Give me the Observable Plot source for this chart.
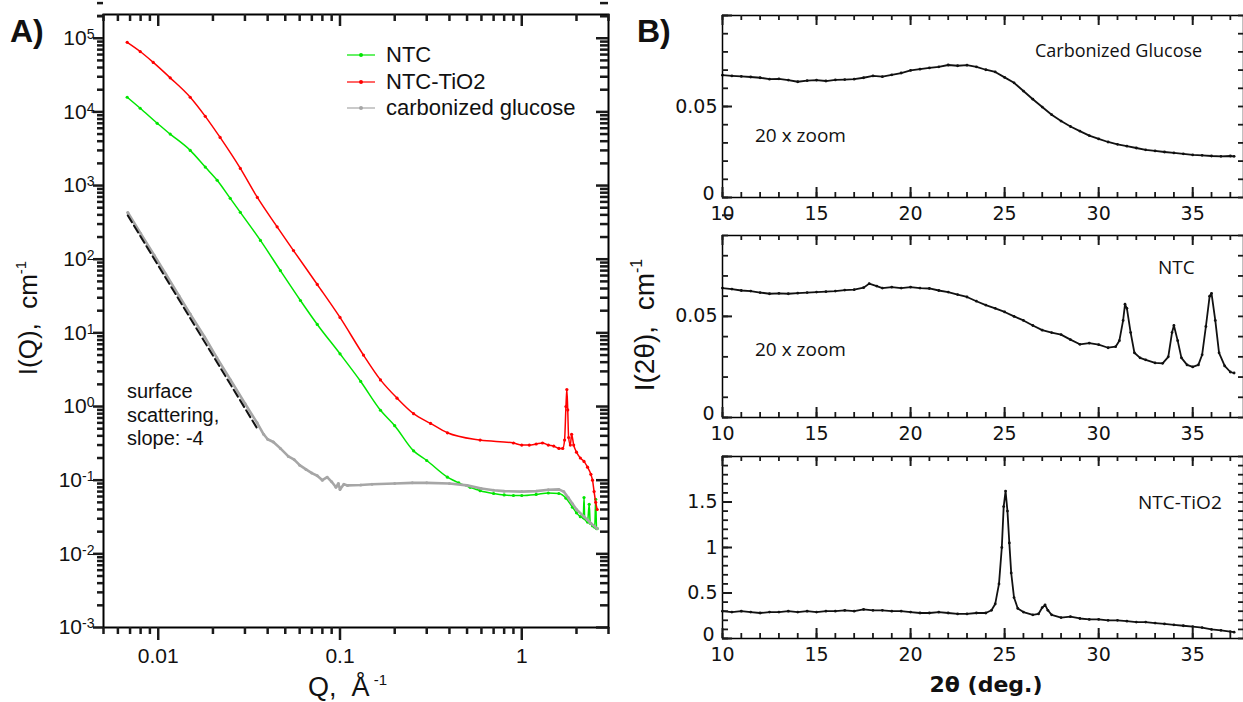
<!DOCTYPE html>
<html><head><meta charset="utf-8">
<script src="https://cdn.jsdelivr.net/npm/d3@7"></script>
<script src="https://cdn.jsdelivr.net/npm/@observablehq/plot@0.6"></script>
<style>
html,body{margin:0;padding:0;background:#fff;overflow:hidden}
#wrap{position:relative;width:1243px;height:702px;overflow:hidden;background:#fff}
#wrap svg{max-width:none !important}
</style></head><body><div id="wrap"></div>
<script>
// ---------- Panel A: SAXS, I(Q) vs Q (log-log) ----------
const ntcQ = [0.00675,0.00796,0.00987,0.01164,0.015,0.01815,0.0211,0.0249,0.0283,0.0365,0.047,0.0606,0.075,0.1,0.13,0.167,0.2,0.254,0.3,0.39,0.45,0.52,0.59,0.7,0.8,0.9,1.0,1.2,1.4,1.6,1.75,1.9,2.0,2.1,2.18,2.2,2.22,2.3,2.35,2.38,2.45,2.52,2.55,2.58,2.6];
const ntcI = [1.58e4,1.12e4,7.0e3,5.0e3,3.0e3,1.78e3,1.18e3,670,433,180,70,27.5,13.0,5.2,2.19,0.89,0.55,0.25,0.185,0.11,0.092,0.08,0.072,0.066,0.063,0.062,0.062,0.064,0.067,0.066,0.057,0.043,0.036,0.032,0.031,0.058,0.03,0.027,0.047,0.026,0.024,0.023,0.055,0.022,0.022];
const tioQ = [0.00675,0.00796,0.00939,0.01164,0.015,0.01815,0.0219,0.0283,0.0351,0.0451,0.0555,0.075,0.1,0.1346,0.167,0.206,0.254,0.315,0.39,0.59,0.9,1.0,1.1,1.2,1.3,1.4,1.5,1.6,1.68,1.72,1.75,1.77,1.79,1.81,1.85,1.88,1.93,2.0,2.1,2.2,2.3,2.4,2.45,2.5,2.55,2.6];
const tioI = [8.8e4,6.6e4,4.7e4,2.9e4,1.58e4,8.7e3,4.5e3,1.71e3,690,275,131,45.4,16.2,5.0,2.3,1.3,0.80,0.59,0.44,0.35,0.32,0.30,0.30,0.31,0.32,0.30,0.29,0.27,0.27,0.35,1.0,1.7,0.9,0.38,0.30,0.42,0.30,0.24,0.2,0.18,0.15,0.12,0.10,0.07,0.05,0.04];
const cgQ = [0.0068,0.008,0.0095,0.011,0.013,0.015,0.018,0.021,0.025,0.03,0.035,0.038,0.04,0.043,0.047,0.052,0.056,0.06,0.065,0.07,0.075,0.08,0.085,0.09,0.095,0.098,0.1,0.105,0.11,0.13,0.15,0.2,0.25,0.3,0.4,0.5,0.6,0.7,0.8,1.0,1.2,1.4,1.6,1.7,1.8,1.9,2.0,2.2,2.4,2.6];
const cgI = [430,224,113,63,32,18,8.8,4.6,2.3,1.1,0.6,0.42,0.36,0.33,0.27,0.21,0.19,0.16,0.14,0.125,0.115,0.1,0.11,0.095,0.08,0.09,0.075,0.088,0.085,0.086,0.088,0.09,0.092,0.092,0.09,0.085,0.077,0.073,0.071,0.07,0.071,0.074,0.075,0.07,0.058,0.048,0.04,0.032,0.026,0.022];
const fitQ = [0.0068, 0.0351];
const fitI = [393, 0.5];
const seriesNames = ["NTC", "NTC-TiO2", "carbonized glucose"];
const seriesColors = ["#00e600", "#ff0000", "#a6a6a6"];
const qMajor = [0.01, 0.1, 1];
const qMinor = [0.005,0.006,0.007,0.008,0.009,0.02,0.03,0.04,0.05,0.06,0.07,0.08,0.09,0.2,0.3,0.4,0.5,0.6,0.7,0.8,0.9,2,3];
const iMajor = [1e-3,1e-2,1e-1,1e0,1e1,1e2,1e3,1e4,1e5];

// ---------- Panel B: XRD, I(2θ) vs 2θ ----------
const cgTheta = [10,10.5,11,11.5,12,12.5,13,13.5,14,14.5,15,15.5,16,16.5,17,17.5,18,18.5,19,19.5,20,20.5,21,21.5,22,22.5,23,23.5,24,24.5,25,25.5,26,26.5,27,27.5,28,28.5,29,29.5,30,30.5,31,31.5,32,32.5,33,33.5,34,34.5,35,35.5,36,36.5,37,37.2];
const cgXrd = [0.0672,0.0668,0.0665,0.0662,0.0658,0.0650,0.0652,0.0645,0.0636,0.0642,0.0645,0.0640,0.0646,0.0648,0.0650,0.0658,0.0668,0.0664,0.0674,0.0684,0.0698,0.0705,0.0712,0.0718,0.0728,0.0724,0.0727,0.0718,0.0702,0.0690,0.0660,0.0630,0.0585,0.0540,0.0497,0.0455,0.0420,0.0390,0.0365,0.0340,0.0322,0.0305,0.0292,0.0282,0.0272,0.0262,0.0256,0.0250,0.0245,0.0240,0.0234,0.0232,0.0228,0.0226,0.0228,0.0226];
const ntcTheta = [10,10.5,11,11.5,12,12.5,13,13.5,14,14.5,15,15.5,16,16.5,17,17.5,17.8,18.2,18.5,19,19.5,20,20.5,21,21.5,22,22.5,23,23.5,24,24.5,25,25.5,26,26.5,27,27.5,28,28.5,29,29.5,30,30.5,30.9,31.1,31.3,31.4,31.5,31.7,31.9,32.2,32.5,33,33.4,33.7,33.9,34.0,34.2,34.4,34.7,35,35.3,35.5,35.7,35.9,36.0,36.2,36.4,36.7,37,37.2];
const ntcXrd = [0.0640,0.0635,0.0628,0.0625,0.0618,0.0612,0.0614,0.0612,0.0615,0.0618,0.0620,0.0622,0.0625,0.0630,0.0632,0.0642,0.0662,0.0650,0.0640,0.0645,0.0640,0.0645,0.0640,0.0638,0.0628,0.0620,0.0608,0.0596,0.0575,0.0556,0.0540,0.0522,0.0500,0.0480,0.0455,0.0432,0.0420,0.0410,0.0385,0.0362,0.0368,0.0360,0.0345,0.0350,0.0380,0.0480,0.0560,0.0540,0.0420,0.0320,0.0295,0.0285,0.0270,0.0268,0.0300,0.0420,0.0455,0.0380,0.0295,0.0260,0.0250,0.0260,0.0310,0.0450,0.0600,0.0614,0.0480,0.0320,0.0255,0.0225,0.0220];
const tioTheta = [10,10.5,11,11.5,12,12.5,13,13.5,14,14.5,15,15.5,16,16.5,17,17.5,18,18.5,19,19.5,20,20.5,21,21.5,22,22.5,23,23.5,24,24.3,24.5,24.7,24.85,24.95,25.05,25.15,25.25,25.35,25.5,25.7,26,26.5,26.8,27.0,27.15,27.3,27.5,28,28.5,29,29.5,30,30.5,31,31.5,32,32.5,33,33.5,34,34.5,35,35.5,36,36.5,37,37.2];
const tioXrd = [0.30,0.29,0.30,0.29,0.28,0.29,0.29,0.30,0.29,0.30,0.29,0.30,0.30,0.31,0.30,0.32,0.31,0.31,0.30,0.30,0.29,0.28,0.28,0.29,0.28,0.27,0.27,0.28,0.28,0.31,0.38,0.60,1.00,1.45,1.62,1.40,1.05,0.72,0.45,0.33,0.29,0.26,0.27,0.34,0.37,0.31,0.26,0.23,0.24,0.22,0.21,0.21,0.20,0.20,0.19,0.18,0.18,0.17,0.16,0.15,0.14,0.13,0.12,0.10,0.09,0.075,0.07];
const thetaMajor = [10,15,20,25,30,35];
const panelNames = ["Carbonized Glucose", "NTC", "NTC-TiO2"];

// ---------- helpers ----------
const rows = (xs, ys) => xs.map((x, i) => ({x, y: ys[i]}));
const wrap = document.getElementById("wrap");
function place(node, left, top, w, h) {
  const d = document.createElement("div");
  d.style.cssText = `position:absolute;left:${left}px;top:${top}px;width:${w}px;height:${h}px`;
  d.appendChild(node); wrap.appendChild(d);
}
function label(html, x, baseline, size, family, {weight = "normal", anchor = "start", k = 0.846} = {}) {
  const d = document.createElement("div");
  const shift = anchor === "middle" ? "translateX(-50%)" : anchor === "end" ? "translateX(-100%)" : "none";
  d.style.cssText = `position:absolute;left:${x}px;top:${baseline - k * size}px;font:${weight} ${size}px ${family};line-height:${size}px;white-space:pre;color:#111;transform:${shift}`;
  d.innerHTML = html; wrap.appendChild(d); return d;
}
function vlabel(html, cx, cy, size, family) {
  const d = document.createElement("div");
  d.style.cssText = `position:absolute;left:${cx}px;top:${cy}px;font:${size}px ${family};line-height:${size}px;white-space:pre;color:#111;transform:translate(-50%,-50%) rotate(-90deg)`;
  d.innerHTML = html; wrap.appendChild(d);
}
// tick-line marks (Plot.tickX / tickY with insets): side = top|bottom|left|right, dir = in|out
function ticksX(vals, side, dir, len, H, sw) {
  const o = side === "top"
    ? (dir === "in" ? {insetTop: 0, insetBottom: H - len} : {insetTop: -len, insetBottom: H})
    : (dir === "in" ? {insetTop: H - len, insetBottom: 0} : {insetTop: H, insetBottom: -len});
  return Plot.tickX(vals, {x: d => d, stroke: "#1a1a1a", strokeWidth: sw, ...o});
}
function ticksY(vals, side, dir, len, W, sw) {
  const o = side === "left"
    ? (dir === "in" ? {insetLeft: 0, insetRight: W - len} : {insetLeft: -len, insetRight: W})
    : (dir === "in" ? {insetLeft: W - len, insetRight: 0} : {insetLeft: W, insetRight: -len});
  return Plot.tickY(vals, {y: d => d, stroke: "#1a1a1a", strokeWidth: sw, ...o});
}
const SANS = "'Liberation Sans', Arial, sans-serif";

// ---------- Panel A ----------
const iMinor = [];
for (const m of iMajor) for (let k = 2; k <= 9; k++) iMinor.push(m * k);
iMinor.push(2e5);
const AW = 620 - 103 - 12, AH = 702 - 14 - 75;

const svgA = Plot.plot({
  width: 620, height: 702,
  marginLeft: 103, marginRight: 12, marginTop: 14, marginBottom: 75,
  x: {type: "log", domain: [0.005, 3], label: null},
  y: {type: "log", domain: [1e-3, 2.1e5], label: null},
  style: {fontFamily: SANS, fontSize: "21px", background: "transparent", overflow: "visible", color: "#111"},
  marks: [
    Plot.line(rows(ntcQ, ntcI), {x: "x", y: "y", stroke: seriesColors[0], strokeWidth: 1.5, curve: "monotone-x"}),
    Plot.dot(rows(ntcQ, ntcI), {x: "x", y: "y", r: 1.6, fill: seriesColors[0]}),
    Plot.line(rows(tioQ, tioI), {x: "x", y: "y", stroke: seriesColors[1], strokeWidth: 1.5, curve: "monotone-x"}),
    Plot.dot(rows(tioQ, tioI), {x: "x", y: "y", r: 1.6, fill: seriesColors[1]}),
    Plot.line(rows(cgQ, cgI), {x: "x", y: "y", stroke: seriesColors[2], strokeWidth: 2.6}),
    Plot.dot(rows(cgQ, cgI), {x: "x", y: "y", r: 1.5, fill: seriesColors[2]}),
    Plot.line(rows(fitQ, fitI), {x: "x", y: "y", stroke: "#111", strokeWidth: 2, strokeDasharray: "8,4"}),
    Plot.frame({strokeWidth: 2, stroke: "#000"}),
    ticksX(qMajor, "bottom", "out", 13, AH, 2.5), ticksX(qMinor, "bottom", "out", 7, AH, 2.5),
    ticksX(qMajor, "top", "in", 12, AH, 2.5), ticksX(qMinor, "top", "in", 7, AH, 2.5),
    ticksY(iMajor, "left", "out", 10, AW, 2.5), ticksY(iMinor, "left", "out", 6, AW, 2.5),
    ticksY(iMajor, "right", "in", 12, AW, 2.5), ticksY(iMinor, "right", "in", 8, AW, 2.5),
    Plot.axisX(qMajor, {anchor: "bottom", tickSize: 0, tickPadding: 21, tickFormat: d => String(d), label: null}),
    Plot.axisY(iMajor, {anchor: "left", tickSize: 0, tickPadding: 9, tickFormat: d => "10^" + Math.round(Math.log10(d)), label: null})
  ]
});
d3.select(svgA).selectAll("text").each(function () {
  const t = this.textContent;
  if (t.startsWith("10^")) {
    this.textContent = "10";
    d3.select(this).append("tspan").attr("dy", "-6").attr("font-size", "14px").text(t.slice(3));
  }
});
place(svgA, 0, 0, 620, 702);

// ---------- Panel B ----------
function xrdPanel(data, top, yMax, yMinorStep, yMajorStep, yLabels) {
  const yMinor = d3.range(0, Math.round(yMax / yMinorStep) + 1).map(i => +(i * yMinorStep).toFixed(4));
  const yMajor = d3.range(0, Math.round(yMax / yMajorStep) + 1).map(i => +(i * yMajorStep).toFixed(4));
  const thetaMinor = d3.range(10, 38, 1);
  const W = 644 - 122 - 1, H = 228 - 15 - 31;
  const svg = Plot.plot({
    width: 644, height: 228,
    marginLeft: 122, marginRight: 1, marginTop: 15, marginBottom: 31,
    x: {domain: [10, 37.7], label: null},
    y: {domain: [0, yMax], label: null},
    style: {fontFamily: "'DejaVu Sans', Verdana, sans-serif", fontSize: "19px", background: "transparent", overflow: "visible", color: "#111"},
    marks: [
      Plot.line(data, {x: "x", y: "y", stroke: "#111", strokeWidth: 1.8}),
      Plot.dot(data, {x: "x", y: "y", r: 1.4, fill: "#111"}),
      Plot.frame({strokeWidth: 1.5, stroke: "#000"}),
      ticksX(thetaMinor, "top", "in", 5, H, 1.8), ticksX(thetaMajor, "top", "in", 10, H, 2),
      ticksX(thetaMinor, "bottom", "in", 5, H, 1.8), ticksX(thetaMajor, "bottom", "in", 10, H, 2),
      ticksY(yMinor, "left", "in", 6, W, 1.8), ticksY(yMajor, "left", "in", 10, W, 2),
      ticksY(yMinor, "right", "in", 5, W, 1.8),
      Plot.axisX(thetaMajor, {anchor: "bottom", tickSize: 0, tickPadding: 9, tickFormat: d => String(d), label: null}),
      Plot.axisY(yLabels.filter(v => v !== 0), {anchor: "left", tickSize: 0, tickPadding: 5, tickFormat: d3.format("~g"), label: null}),
      Plot.axisY([0], {anchor: "left", tickSize: 0, tickPadding: 8, dy: -4, tickFormat: d3.format("~g"), label: null})
    ]
  });
  place(svg, 600, top, 644, 228);
}
xrdPanel(rows(cgTheta, cgXrd), 0, 0.1, 0.01, 0.05, [0, 0.05]);
xrdPanel(rows(ntcTheta, ntcXrd), 220, 0.09, 0.01, 0.05, [0, 0.05]);
xrdPanel(rows(tioTheta, tioXrd), 441, 2, 0.1, 0.5, [0, 0.5, 1, 1.5]);

// ---------- Text ----------
label("A)", 10, 42, 32, SANS, {weight: "bold"});
label("B)", 637, 42, 32, SANS, {weight: "bold"});
// legend
const legendY = [55, 82, 108], legendBase = [63, 90, 116];
seriesNames.forEach((name, i) => {
  const ln = document.createElement("div");
  ln.style.cssText = `position:absolute;left:347px;top:${legendY[i] - 1}px;width:28px;height:2px;background:${seriesColors[i]};opacity:0.6`;
  wrap.appendChild(ln);
  const dt = document.createElement("div");
  dt.style.cssText = `position:absolute;left:359px;top:${legendY[i] - 2}px;width:4px;height:4px;border-radius:2px;background:${seriesColors[i]}`;
  wrap.appendChild(dt);
  label(name, 386, legendBase[i], 22, SANS);
});
label("surface", 127, 398, 20, SANS);
label("scattering,", 127, 422, 20, SANS);
label("slope: -4", 127, 445, 20, SANS);
vlabel("I(Q),  cm<span style=\"font-size:15px;position:relative;top:-11px\">-1</span>", 30, 318, 26, SANS);
label("Q,  Å<span style=\"font-size:15px;position:relative;top:-11px\"> -1</span>", 308, 697, 27, SANS);

const OPEN = "'Open Sans', 'Noto Sans', sans-serif";
label(panelNames[0], 1035, 57, 18, OPEN, {k: 0.888});
label("20 x zoom", 755, 143, 19, OPEN, {k: 0.888});
label(panelNames[1], 1158, 275, 19, OPEN, {k: 0.888});
label("20 x zoom", 755, 357, 19, OPEN, {k: 0.888});
label(panelNames[2], 1138, 510, 19, OPEN, {k: 0.888});
vlabel("I(2θ),  cm<span style=\"font-size:16px;position:relative;top:-12px\">-1</span>", 647, 325, 28, SANS);
label("2θ (deg.)", 986, 693, 22, "'DejaVu Sans', Verdana, sans-serif", {weight: "bold", anchor: "middle"});
</script>
</body></html>
